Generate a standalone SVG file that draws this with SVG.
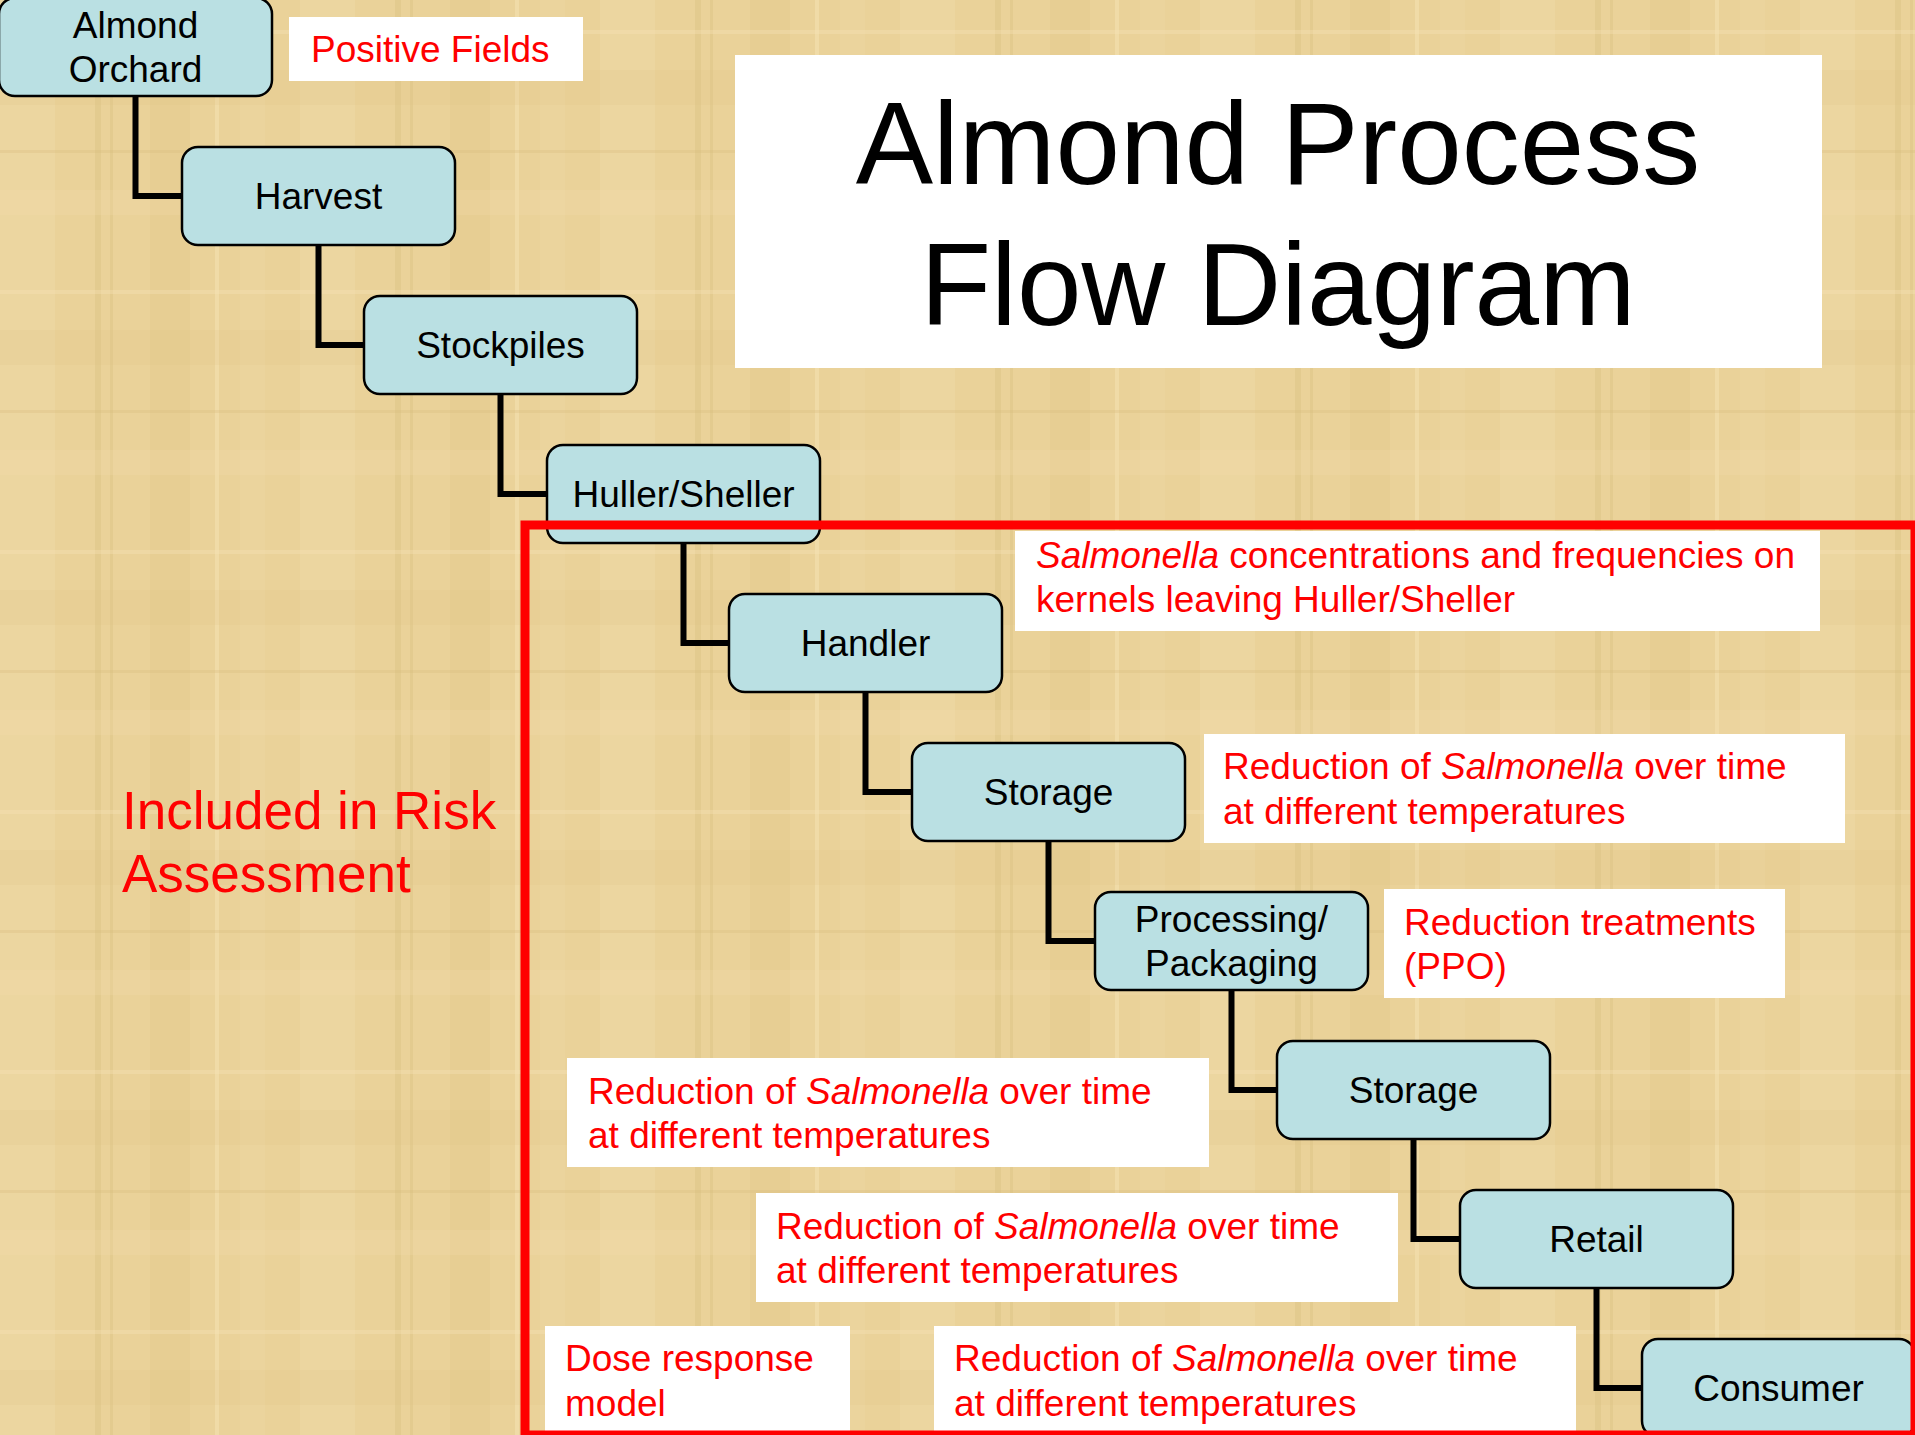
<svg xmlns="http://www.w3.org/2000/svg" width="1915" height="1435" viewBox="0 0 1915 1435">
  <style>
    .node rect { fill: #bae0e3; stroke: #000; stroke-width: 2.5; }
    .node text { font-family: "Liberation Sans", Arial, sans-serif; font-size: 37px; fill: #000; text-anchor: middle; }
    .note rect { fill: #fff; }
    .note text { font-family: "Liberation Sans", Arial, sans-serif; font-size: 37px; fill: #ff0000; }
    .it { font-style: italic; }
    .conn path { fill: none; stroke: #000; stroke-width: 6; stroke-linejoin: miter; }
    .title { font-family: "Liberation Sans", Arial, sans-serif; font-size: 116px; fill: #000; text-anchor: middle; }
    .risk { font-family: "Liberation Sans", Arial, sans-serif; font-size: 53px; fill: #ff0000; }
  </style>
  <defs>
    <pattern id="paper" x="0" y="0" width="300" height="260" patternUnits="userSpaceOnUse">
      <rect width="300" height="260" fill="#ead299"/>
      <rect x="0" y="0" width="55" height="260" fill="#f1dcab" opacity="0.35"/>
      <rect x="95" y="0" width="6" height="260" fill="#d6b978" opacity="0.3"/>
      <rect x="110" y="0" width="3" height="260" fill="#d6b978" opacity="0.3"/>
      <rect x="150" y="0" width="40" height="260" fill="#e2c585" opacity="0.3"/>
      <rect x="215" y="0" width="4" height="260" fill="#f5e3b6" opacity="0.5"/>
      <rect x="240" y="0" width="25" height="260" fill="#f0d9a6" opacity="0.3"/>
      <rect x="0" y="30" width="300" height="4" fill="#f5e3b6" opacity="0.35"/>
      <rect x="0" y="70" width="300" height="35" fill="#e0c383" opacity="0.18"/>
      <rect x="0" y="150" width="300" height="3" fill="#d8bb7a" opacity="0.3"/>
      <rect x="0" y="190" width="300" height="25" fill="#f2ddac" opacity="0.25"/>
    </pattern>
  </defs>
  <rect width="1915" height="1435" fill="url(#paper)"/>

  <g id="title">
    <rect x="735" y="55" width="1087" height="313" fill="#fff"/>
    <text class="title" x="1278" y="184">Almond Process</text>
    <text class="title" x="1278" y="325">Flow Diagram</text>
  </g>

  <g id="risk-label">
    <text class="risk" x="122" y="829">Included in Risk</text>
    <text class="risk" x="122" y="892">Assessment</text>
  </g>

  <g class="conn" id="connectors">
    <path d="M135.5 96 V196 H182"/>
    <path d="M318.5 245 V345 H364"/>
    <path d="M500.5 394 V494 H547"/>
    <path d="M683.5 543 V643 H729"/>
    <path d="M865.5 692 V792 H912"/>
    <path d="M1048.5 841 V941 H1095"/>
    <path d="M1231.5 990 V1090 H1277"/>
    <path d="M1413.5 1139 V1239 H1460"/>
    <path d="M1596.5 1288 V1388 H1642"/>
  </g>

  <g class="node" id="n-orchard">
    <rect x="-1" y="-2" width="273" height="98" rx="16"/>
    <text x="135.5" y="38">Almond</text>
    <text x="135.5" y="82">Orchard</text>
  </g>
  <g class="node" id="n-harvest">
    <rect x="182" y="147" width="273" height="98" rx="16"/>
    <text x="318.5" y="209">Harvest</text>
  </g>
  <g class="node" id="n-stockpiles">
    <rect x="364" y="296" width="273" height="98" rx="16"/>
    <text x="500.5" y="358">Stockpiles</text>
  </g>
  <g class="node" id="n-huller">
    <rect x="547" y="445" width="273" height="98" rx="16"/>
    <text x="683.5" y="507">Huller/Sheller</text>
  </g>
  <g class="node" id="n-handler">
    <rect x="729" y="594" width="273" height="98" rx="16"/>
    <text x="865.5" y="656">Handler</text>
  </g>
  <g class="node" id="n-storage1">
    <rect x="912" y="743" width="273" height="98" rx="16"/>
    <text x="1048.5" y="805">Storage</text>
  </g>
  <g class="node" id="n-processing">
    <rect x="1095" y="892" width="273" height="98" rx="16"/>
    <text x="1231.5" y="932">Processing/</text>
    <text x="1231.5" y="976">Packaging</text>
  </g>
  <g class="node" id="n-storage2">
    <rect x="1277" y="1041" width="273" height="98" rx="16"/>
    <text x="1413.5" y="1103">Storage</text>
  </g>
  <g class="node" id="n-retail">
    <rect x="1460" y="1190" width="273" height="98" rx="16"/>
    <text x="1596.5" y="1252">Retail</text>
  </g>
  <g class="node" id="n-consumer">
    <rect x="1642" y="1339" width="273" height="98" rx="16"/>
    <text x="1778.5" y="1401">Consumer</text>
  </g>

  <g class="note" id="note-positive">
    <rect x="289" y="17" width="294" height="64"/>
    <text x="311" y="62">Positive Fields</text>
  </g>
  <g class="note" id="note-huller">
    <rect x="1015" y="531" width="805" height="100"/>
    <text x="1036" y="568"><tspan class="it">Salmonella</tspan> concentrations and frequencies on</text>
    <text x="1036" y="612">kernels leaving Huller/Sheller</text>
  </g>
  <g class="note" id="note-storage1">
    <rect x="1204" y="734" width="641" height="109"/>
    <text x="1223" y="779">Reduction of <tspan class="it">Salmonella</tspan> over time</text>
    <text x="1223" y="824">at different temperatures</text>
  </g>
  <g class="note" id="note-ppo">
    <rect x="1384" y="889" width="401" height="109"/>
    <text x="1404" y="935">Reduction treatments</text>
    <text x="1404" y="979">(PPO)</text>
  </g>
  <g class="note" id="note-storage2">
    <rect x="567" y="1058" width="642" height="109"/>
    <text x="588" y="1104">Reduction of <tspan class="it">Salmonella</tspan> over time</text>
    <text x="588" y="1148">at different temperatures</text>
  </g>
  <g class="note" id="note-retail">
    <rect x="756" y="1193" width="642" height="109"/>
    <text x="776" y="1239">Reduction of <tspan class="it">Salmonella</tspan> over time</text>
    <text x="776" y="1283">at different temperatures</text>
  </g>
  <g class="note" id="note-dose">
    <rect x="545" y="1326" width="305" height="109"/>
    <text x="565" y="1371">Dose response</text>
    <text x="565" y="1416">model</text>
  </g>
  <g class="note" id="note-consumer">
    <rect x="934" y="1326" width="642" height="109"/>
    <text x="954" y="1371">Reduction of <tspan class="it">Salmonella</tspan> over time</text>
    <text x="954" y="1416">at different temperatures</text>
  </g>

  <rect id="risk-frame" x="525" y="525" width="1390" height="910" fill="none" stroke="#ff0000" stroke-width="9"/>
</svg>
